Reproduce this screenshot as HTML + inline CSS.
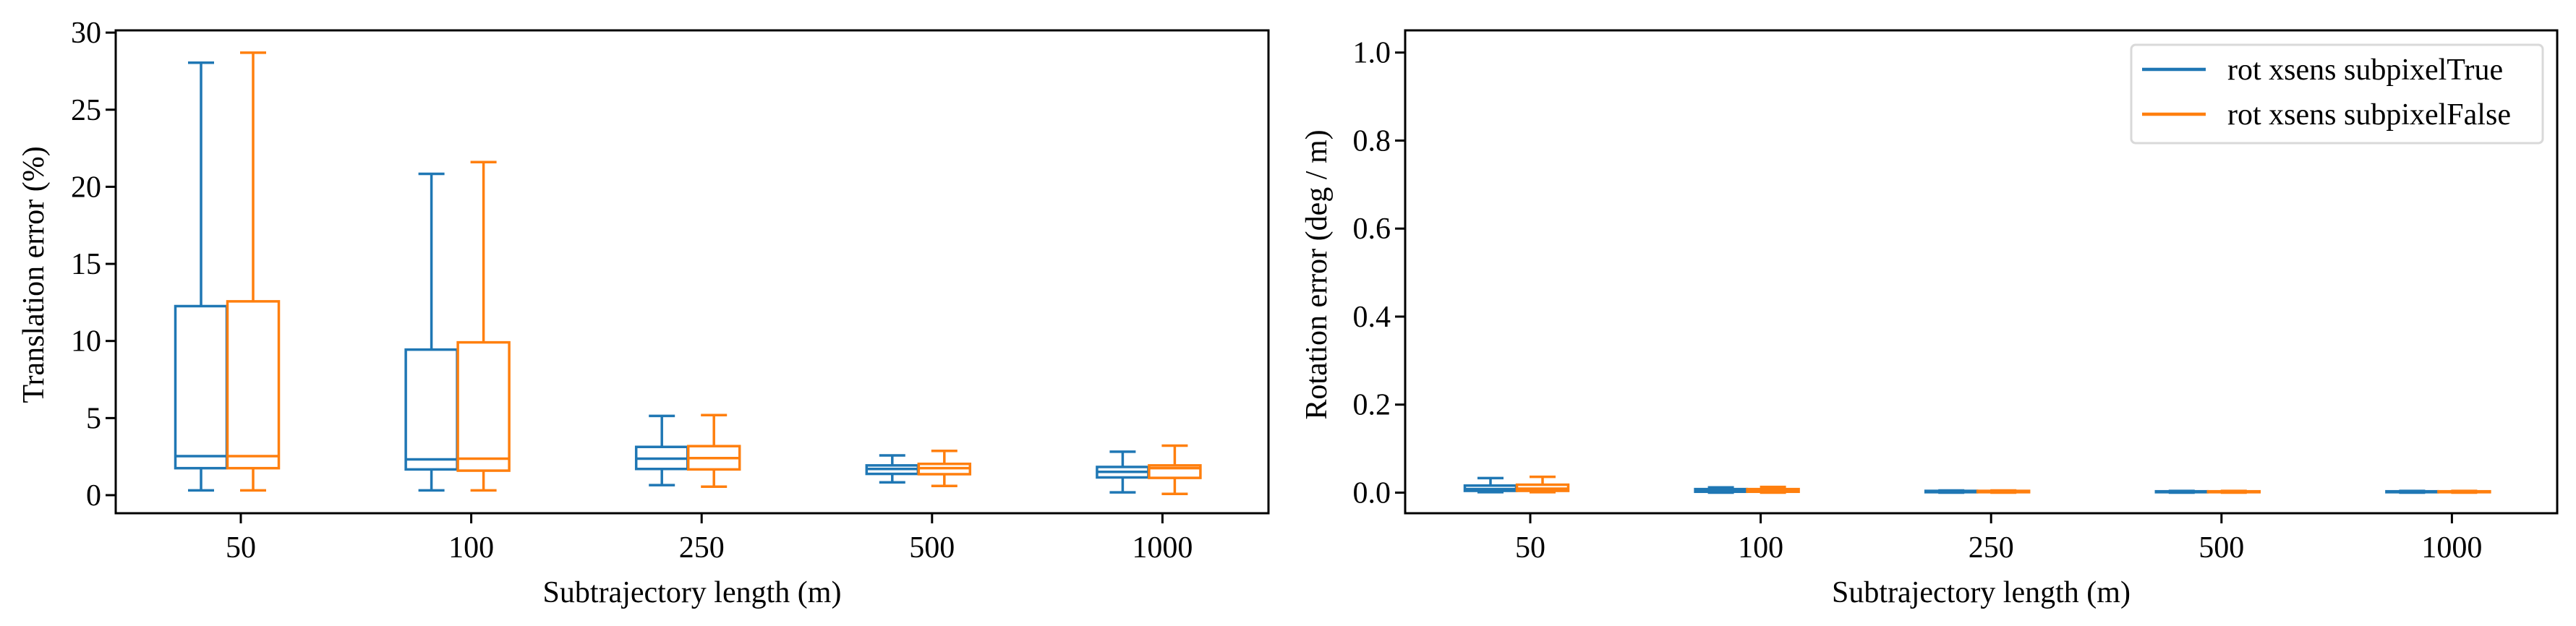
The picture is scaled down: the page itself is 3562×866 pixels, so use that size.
<!DOCTYPE html>
<html><head><meta charset="utf-8"><style>
html,body{margin:0;padding:0;background:#fff}
svg{display:block}
text{font-family:"Liberation Serif",serif;fill:#000}
</style></head><body>
<svg id="fig" width="3562" height="866" viewBox="0 0 3562 866" xmlns="http://www.w3.org/2000/svg"></svg>
<script>
const categories = ["50","100","250","500","1000"];
const seriesNames = ["rot xsens subpixelTrue","rot xsens subpixelFalse"];
// translation error stats: [low, q1, median, q3, high]
const transTrue = [[0.31,1.75,2.53,12.26,28.05],[0.31,1.67,2.32,9.44,20.84],[0.65,1.70,2.37,3.13,5.14],[0.83,1.38,1.70,1.93,2.58],[0.18,1.15,1.51,1.83,2.82]];
const transFalse = [[0.31,1.75,2.53,12.57,28.7],[0.31,1.59,2.37,9.91,21.6],[0.55,1.67,2.40,3.18,5.19],[0.60,1.36,1.75,2.03,2.87],[0.08,1.12,1.75,1.93,3.21]];
// rotation error stats
const rotTrue = [[0.001,0.004,0.008,0.016,0.033],[0.0,0.002,0.004,0.008,0.012],[0.0,0.001,0.002,0.004,0.005],[0.0,0.001,0.002,0.003,0.004],[0.0,0.001,0.002,0.003,0.004]];
const rotFalse = [[0.001,0.004,0.009,0.018,0.036],[0.0,0.002,0.004,0.008,0.013],[0.0,0.001,0.002,0.004,0.005],[0.0,0.001,0.002,0.003,0.004],[0.0,0.001,0.002,0.003,0.004]];
const transTicks = [0,5,10,15,20,25,30];
const rotTicks = ["0.0","0.2","0.4","0.6","0.8","1.0"];

const NS="http://www.w3.org/2000/svg";
const svg=document.getElementById('fig');
const colors=["#1f77b4","#ff7f0e"];
function mk(tag,attrs,parent){const e=document.createElementNS(NS,tag);for(const k in attrs)e.setAttribute(k,attrs[k]);(parent||svg).appendChild(e);return e;}

function panel(cfg){
  const g=mk('g',{});
  
  
  const L=cfg.L,R=cfg.R,T=42,B=710;
  const ys=v=>cfg.y0-(v)*cfg.ppu;
  const xs=i=>L+173+i*318.6;
  // ticks y
  cfg.yticks.forEach(t=>{
    const y=ys(parseFloat(t));
    const tk=mk('line',{x1:L-14,x2:L,y1:y,y2:y,stroke:'#000','stroke-width':3},g);
    
    
    const tx=mk('text',{x:L-20,y:y+14,'text-anchor':'end','font-size':42},g);
    tx.textContent=t;
    
    
  });
  categories.forEach((c,i)=>{
    const x=xs(i);
    const tk=mk('line',{x1:x,x2:x,y1:B,y2:B+14,stroke:'#000','stroke-width':3},g);
    
    
    const tx=mk('text',{x:x,y:771,'text-anchor':'middle','font-size':42},g);
    tx.textContent=c;
    
    
  });
  [cfg.s1,cfg.s2].forEach((series,si)=>{
    const off=si===0?-55:17, bw=71, col=colors[si];
    series.forEach((st,i)=>{
      const cx=xs(i)+off;
      const bg=mk('g',{stroke:col,'stroke-width':3.5,fill:'none'},g);
      
      
      mk('line',{x1:cx,x2:cx,y1:ys(st[0]),y2:ys(st[1])},bg);
      mk('line',{x1:cx,x2:cx,y1:ys(st[3]),y2:ys(st[4])},bg);
      mk('line',{x1:cx-18,x2:cx+18,y1:ys(st[0]),y2:ys(st[0])},bg);
      mk('line',{x1:cx-18,x2:cx+18,y1:ys(st[4]),y2:ys(st[4])},bg);
      mk('rect',{x:cx-bw/2,y:ys(st[3]),width:bw,height:Math.max(0.5,ys(st[1])-ys(st[3]))},bg);
      mk('line',{x1:cx-bw/2,x2:cx+bw/2,y1:ys(st[2]),y2:ys(st[2])},bg);
    });
  });
  const fr=mk('rect',{x:L,y:T,width:R-L,height:B-T,fill:'none',stroke:'#000','stroke-width':3},g);
  
  
  const xl=mk('text',{x:(L+R)/2,y:833,'text-anchor':'middle','font-size':42},g);
  xl.textContent='Subtrajectory length (m)';
  
  
  const yl=mk('text',{x:0,y:0,'text-anchor':'middle','font-size':42,transform:`translate(${cfg.ylx},380) rotate(-90)`},g);
  yl.textContent=cfg.ylabel;
  
  
}
panel({name:'translation-error-panel',L:160,R:1754,y0:685,ppu:21.33,yticks:transTicks.map(String),s1:transTrue,s2:transFalse,ylabel:'Translation error (%)',ylx:60});
panel({name:'rotation-error-panel',L:1943,R:3536,y0:681.5,ppu:608.8,yticks:rotTicks,s1:rotTrue,s2:rotFalse,ylabel:'Rotation error (deg / m)',ylx:1834});

// legend
const lg=mk('g',{});


mk('rect',{x:2947,y:62,width:569,height:136,rx:6,fill:'#fff','fill-opacity':0.8,stroke:'#d9d9d9','stroke-width':3},lg);
seriesNames.forEach((n,i)=>{
  const y=96+i*62;
  const e=mk('g',{},lg);
  
  
  mk('line',{x1:2962,x2:3050,y1:y,y2:y,stroke:colors[i],'stroke-width':4.5},e);
  const t=mk('text',{x:3080,y:y+14,'font-size':42},e);
  t.textContent=n;
});
</script>
</body></html>
